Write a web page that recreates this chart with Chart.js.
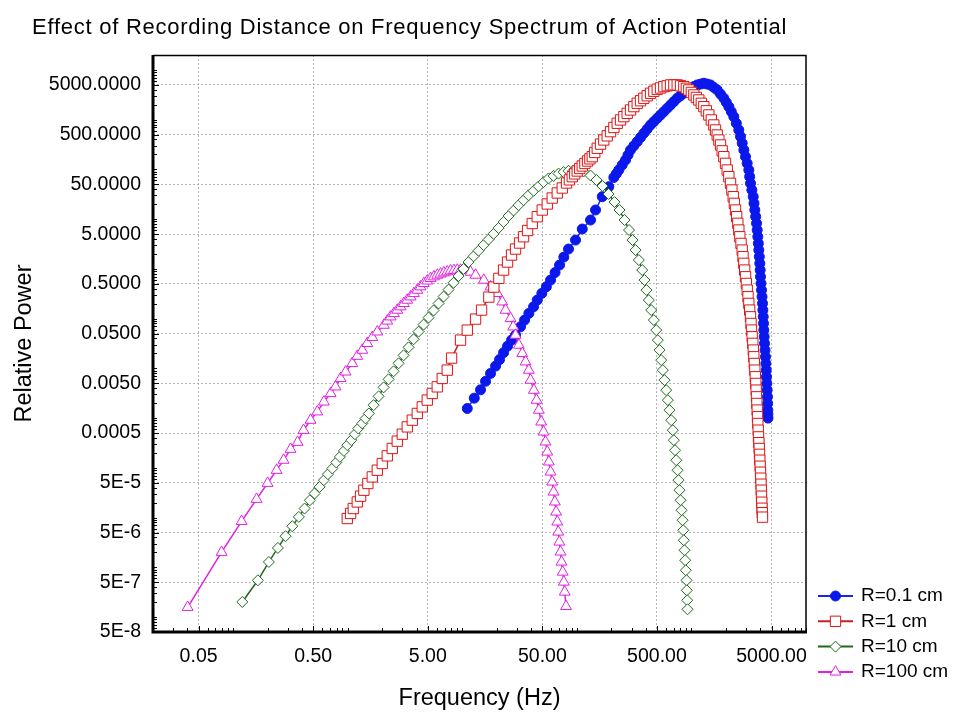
<!DOCTYPE html>
<html>
<head>
<meta charset="utf-8">
<title>Effect of Recording Distance on Frequency Spectrum of Action Potential</title>
<script src="https://cdn.jsdelivr.net/npm/chart.js@4.4.0/dist/chart.umd.min.js"></script>
<style>
  html, body { margin: 0; padding: 0; background: #fff; }
  #wrap { width: 960px; height: 720px; }
</style>
</head>
<body>
<div id="wrap"><canvas id="spectrumChart" width="960" height="720"></canvas></div>
<script>
// values (Hz, relative power)
var freq01 = [11.06, 12.73, 14.44, 15.97, 17.66, 19.53, 21.16, 22.94, 24.85, 26.93,
  29.18, 32.27, 34.98, 38.13, 41.91, 45.14, 49.5, 54.2, 58.97, 64.55,
  70.66, 77.0, 84.6, 97.4, 111.5, 131.7, 145.6, 166.6, 190.2, 210.3,
  221.1, 232.5, 248.7, 266.1, 279.7, 294.1, 314.6, 336.6, 359.7, 384.3,
  411.1, 439.7, 470.2, 502.9, 537.5, 574.4, 614.5, 657.3, 702.9, 751.7,
  803.3, 858.5, 918.3, 982.2, 1050.7, 1124, 1200.9, 1283, 1372.4, 1468,
  1570.4, 1680, 1795, 1918, 2016.5, 2120, 2229, 2344, 2465, 2592,
  2682, 2775, 2869, 2966, 3066, 3170, 3224, 3280, 3370, 3462,
  3518, 3575, 3637, 3700, 3749, 3798, 3836, 3875, 3914, 3953,
  3981, 4009, 4049, 4090, 4132, 4174, 4203, 4233, 4258, 4284,
  4314, 4345, 4389, 4433, 4464, 4496, 4523, 4550, 4582, 4615,
  4629, 4643, 4651, 4660];
var power01 = [1.56e-3, 2.52e-3, 3.7e-3, 5.49e-3, 7.91e-3, 0.0111, 0.015, 0.0207, 0.028, 0.037,
  0.0466, 0.0685, 0.0935, 0.1275, 0.173, 0.236, 0.322, 0.437, 0.596, 0.844,
  1.195, 1.73, 2.51, 3.80, 6.33, 9.61, 15.3, 28.3, 44.9, 68.8,
  81.9, 97.4, 122.8, 154.8, 195.1, 246, 298.4, 362, 439.7, 534,
  647, 784, 915.5, 1069, 1245, 1451, 1695, 1980, 2312, 2700,
  3032, 3404, 3822, 4292, 4632, 5000, 5201, 5410, 5201, 5000,
  4454, 3967, 3273, 2700, 2223, 1830, 1451, 1151, 846.1, 622,
  457.2, 336, 245.9, 180, 132.4, 97.4, 71.6, 52.6, 38.58, 28.3,
  20.81, 15.3, 11.24, 8.25, 6.05, 4.43, 3.25, 2.39, 1.756, 1.29,
  0.947, 0.695, 0.5105, 0.375, 0.2756, 0.2025, 0.1486, 0.109, 0.08006, 0.0588,
  0.04324, 0.0318, 0.02332, 0.0171, 0.012556, 9.22e-3, 6.776e-3, 4.98e-3, 3.653e-3, 2.68e-3,
  1.971e-3, 1.45e-3, 1.204e-3, 1.0e-3];

var freq1 = [0.992, 1.060, 1.119, 1.213, 1.296, 1.385, 1.501, 1.640, 1.813, 2.004,
  2.216, 2.450, 2.709, 2.996, 3.313, 3.663, 4.050, 4.477, 4.950, 5.473,
  6.051, 6.69, 7.40, 8.07, 9.66, 11.06, 13.07, 14.74, 17.07, 18.87,
  20.87, 22.94, 24.85, 26.93, 29.18, 31.62, 34.28, 37.15, 40.82, 45.14,
  49.9, 55.2, 61.0, 67.5, 74.6,
  81.3, 86.1, 91.2, 95.9, 100.8, 106.0, 111.5, 117.6, 124.0, 130.0,
  136.3, 143.3, 150.7, 161.0, 172.1, 184.1, 196.9, 210.6, 225.2, 240.7,
  257.2, 275.0, 294.1, 314.6, 336.6, 359.7, 384.3, 411.1, 439.7, 470.2,
  502.9, 537.5, 574.4, 614.5, 657.3, 702.9, 751.7, 803.3, 858.5, 902.8,
  949.3, 998.4, 1050, 1103.6, 1160, 1220, 1283, 1349, 1419, 1492,
  1569, 1623.5, 1680, 1736.5, 1795, 1855.5, 1918, 1984.4, 2053, 2122.3,
  2194, 2254.7, 2317, 2370.9, 2426, 2482.8, 2541, 2592.5, 2645, 2709.2,
  2775, 2820.1, 2866, 2915.6, 2966, 3017, 3069, 3119, 3170, 3224.5,
  3280, 3312.8, 3346, 3389.7, 3434, 3468.8, 3504, 3539.3, 3575, 3611.3,
  3648, 3673.9, 3700, 3725.9, 3752, 3774.9, 3798, 3824.9, 3852, 3878.9,
  3906, 3929.4, 3953, 3980.9, 4009, 4029.5, 4050, 4070, 4090, 4111,
  4132, 4153, 4174];
var power1 = [9.56e-6, 1.21e-5, 1.52e-5, 2.06e-5, 2.69e-5, 3.55e-5, 4.84e-5, 6.57e-5, 8.96e-5, 1.22e-4,
  1.74e-4, 2.45e-4, 3.44e-4, 4.75e-4, 6.66e-4, 9.09e-4, 1.24e-3, 1.68e-3, 2.3e-3, 3.13e-3,
  4.25e-3, 6.27e-3, 9.22e-3, 0.0161, 0.037, 0.0588, 0.0979, 0.1485, 0.271, 0.431,
  0.645, 0.948, 1.373, 1.899, 2.507, 3.31, 4.43, 5.91, 8.17, 11.2,
  15.27, 20.2, 26.6, 33.6, 42.3,
  53.4, 61.7, 71.4, 81.5, 93.0, 104.4, 117.3, 131.7, 147.8, 163.3,
  180.4, 219.2, 266.4, 322.8, 391.2, 474.1, 574.6, 698, 848, 988,
  1151, 1344, 1570, 1834, 2142, 2405, 2700, 3032, 3404, 3735,
  4098, 4352, 4622, 4807, 5000, 5000, 5000, 4807, 4622, 4282,
  3967, 3533, 3147, 2803, 2496, 2137, 1830, 1510, 1246, 988.4,
  784, 621.7, 493, 390.9, 310, 236.5, 180.4, 132.6, 97.4, 71.6,
  52.6, 38.6, 28.3, 20.79, 15.27, 11.22, 8.25, 6.05, 4.43, 3.254,
  2.39, 1.758, 1.293, 0.948, 0.695, 0.5105, 0.375, 0.2756, 0.2025, 0.1485,
  0.1089, 0.08002, 0.0588, 0.04324, 0.0318, 0.02332, 0.0171, 0.012556, 9.22e-3, 6.776e-3,
  4.98e-3, 3.653e-3, 2.68e-3, 1.971e-3, 1.45e-3, 1.0635e-3, 7.8e-4, 5.717e-4, 4.19e-4, 3.204e-4,
  2.45e-4, 1.8685e-4, 1.425e-4, 1.079e-4, 8.17e-5, 6.19e-5, 4.69e-5, 3.552e-5, 2.69e-5, 2.035e-5,
  1.54e-5, 1.2533e-5, 1.02e-5];

var freq10 = [0.1203, 0.1646, 0.2053, 0.246, 0.287, 0.3285, 0.375, 0.4207, 0.468, 0.514,
  0.5686, 0.62, 0.672, 0.734, 0.7953, 0.855, 0.927, 0.992, 1.075, 1.156,
  1.237, 1.341, 1.433, 1.531, 1.683, 1.861, 2.058, 2.275, 2.515, 2.781,
  3.074, 3.400, 3.759, 4.156, 4.596, 5.082, 5.618, 6.211, 6.869, 7.594,
  8.397, 9.286, 10.27, 11.35, 12.55, 13.88, 15.35, 16.97, 18.76, 20.75,
  22.94, 25.36, 28.04, 31.00, 34.28, 37.90, 41.91, 46.33, 51.23, 56.64,
  62.62, 69.24, 76.56, 84.64, 93.6, 103.5, 114.4, 131.7, 148.6, 167.6,
  189.1, 213.3, 235.8, 260.8, 285.5, 306.3, 325.3, 347.6, 372.1, 389.7,
  405.6, 424.8, 445.9, 469.8, 493.0, 509.2, 526.8, 545.1, 562.9, 582.5,
  602.8, 622.4, 644.0, 666.5, 688.2, 702.3, 719.3, 736.9, 756.5, 771.8,
  787.5, 803.4, 819.8, 836.4, 848.3, 858.5, 870.7, 883.0, 893.9, 906.5,
  912.0, 919.3, 924.8];
var power10 = [2.01e-7, 5.48e-7, 1.28e-6, 2.45e-6, 4.22e-6, 6.7e-6, 1.03e-5, 1.52e-5, 2.23e-5, 3.05e-5,
  4.14e-5, 5.64e-5, 7.45e-5, 9.7e-5, 1.28e-4, 1.66e-4, 2.19e-4, 2.86e-4, 3.6e-4, 4.75e-4,
  6.19e-4, 7.8e-4, 9.84e-4, 1.24e-3, 1.82e-3, 2.74e-3, 4.15e-3, 6.02e-3, 8.72e-3, 0.01263,
  0.0183, 0.0265, 0.0384, 0.0548, 0.0759, 0.105, 0.1458, 0.2016, 0.2777, 0.384,
  0.526, 0.718, 0.997, 1.373, 1.788, 2.328, 3.018, 3.893, 5.07, 6.63,
  8.76, 11.57, 14.92, 19.08, 24.05, 30.18, 37.18, 45.6, 55.6, 66.0,
  74.1, 82.5, 88.4, 93.9, 95.2, 93.9, 90.9, 75.5, 61.3, 46.4,
  32.1, 22.1, 15.27, 9.61, 6.05, 3.80, 2.39, 1.506, 0.948, 0.596,
  0.375, 0.236, 0.1485, 0.0935, 0.0588, 0.037, 0.0233, 0.01465, 9.22e-3, 5.8e-3,
  3.65e-3, 2.3e-3, 1.445e-3, 9.09e-4, 5.72e-4, 3.6e-4, 2.26e-4, 1.425e-4, 8.96e-5, 5.64e-5,
  3.55e-5, 2.23e-5, 1.405e-5, 8.84e-6, 5.56e-6, 3.5e-6, 2.2e-6, 1.386e-6, 8.72e-7, 5.48e-7,
  3.45e-7, 2.17e-7, 1.43e-7];

var freq100 = [0.0401, 0.0794, 0.1186, 0.1603, 0.200, 0.2398, 0.276, 0.3175, 0.3656, 0.412,
  0.4745, 0.543, 0.62, 0.71, 0.784, 0.867, 0.959, 1.097, 1.213, 1.341,
  1.483, 1.64, 1.813,
  2.07, 2.214, 2.368, 2.533, 2.71, 2.895, 3.093, 3.309, 3.54, 3.786,
  4.05, 4.326, 4.62, 4.944, 5.29, 5.657, 6.05, 6.466, 6.91, 7.393,
  7.91, 8.461, 9.05, 9.669, 10.33,
  11.82, 13.06, 15.43, 17.66, 20.2, 22.34, 23.87, 26.4, 27.86, 29.18,
  31.2, 33.4, 35.7, 38.1, 39.45, 42.2, 44.5, 46.6, 48.9, 51.2,
  53.3, 55.2, 57.0, 58.97, 61.0, 62.6, 64.3, 65.9, 67.5, 68.8,
  70.4, 72.1, 73.5, 75.3, 77.0, 78.4, 80.5];
var power100 = [1.57e-7, 2.01e-6, 8.4e-6, 2.34e-5, 4.9e-5, 8.97e-5, 1.43e-4, 2.37e-4, 3.28e-4, 5.7e-4,
  9.1e-4, 1.34e-3, 2.12e-3, 3.13e-3, 4.26e-3, 6.28e-3, 8.5e-3, 0.01256, 0.0176, 0.0233,
  0.0318, 0.042, 0.0543,
  0.0741, 0.0899, 0.109, 0.1273, 0.1486, 0.1737, 0.203, 0.2363, 0.275, 0.3211,
  0.375, 0.4382, 0.512, 0.5747, 0.645, 0.6965, 0.752, 0.7929, 0.836, 0.876,
  0.918, 0.9334, 0.949, 0.949, 0.949,
  0.863, 0.752, 0.596, 0.437, 0.322, 0.218, 0.1486, 0.101, 0.0686, 0.0467,
  0.0294, 0.02, 0.01355, 0.00923, 0.0058, 0.00365, 0.0023, 0.00145, 8.4e-4, 5.28e-4,
  3.33e-4, 2.09e-4, 1.32e-4, 8.28e-5, 5.21e-5, 3.28e-5, 2.07e-5, 1.3e-5, 8.2e-6, 5.14e-6,
  3.24e-6, 2.04e-6, 1.28e-6, 8.05e-7, 5.07e-7, 3.19e-7, 1.64e-7];

var seriesLabels = ['R=0.1 cm', 'R=1 cm', 'R=10 cm', 'R=100 cm'];
var xTicks = [0.05, 0.5, 5, 50, 500, 5000];
var xTickLabels = ['0.05', '0.50', '5.00', '50.00', '500.00', '5000.00'];
var yTicks = [5e-8, 5e-7, 5e-6, 5e-5, 5e-4, 5e-3, 0.05, 0.5, 5, 50, 500, 5000];
var yTickLabels = ['5E-8', '5E-7', '5E-6', '5E-5', '0.0005', '0.0050', '0.0500', '0.5000', '5.0000', '50.0000', '500.0000', '5000.0000'];
var chartTitle = 'Effect of Recording Distance on Frequency Spectrum of Action Potential';

var FONT = '"Liberation Sans", Arial, sans-serif';
Chart.defaults.font.family = FONT;
Chart.defaults.color = '#000';

function pairs(xs, ys) {
  return xs.map(function (x, i) { return {x: x, y: ys[i]}; });
}

function series(label, xs, ys, style) {
  return Object.assign({
    label: label,
    data: pairs(xs, ys),
    showLine: true,
    tension: 0,
    fill: false,
    borderWidth: 1.5,
    pointBorderWidth: 1
  }, style);
}

var datasets = [
  series(seriesLabels[0], freq01, power01, {
    borderColor: '#1a28d8', pointStyle: 'circle', pointRadius: 5,
    pointBackgroundColor: '#0a18ec', pointBorderColor: '#0a18ec', order: 3
  }),
  series(seriesLabels[1], freq1, power1, {
    borderColor: '#c42424', pointStyle: 'rect', pointRadius: 7.3,
    pointBackgroundColor: '#ffffff', pointBorderColor: '#dc1414', order: 0
  }),
  series(seriesLabels[2], freq10, power10, {
    borderColor: '#1d6a1d', pointStyle: 'rectRot', pointRadius: 5.5,
    pointBackgroundColor: '#ffffff', pointBorderColor: '#1d6a1d', order: 1
  }),
  series(seriesLabels[3], freq100, power100, {
    borderColor: '#e022e0', pointStyle: 'triangle', pointRadius: 6.3,
    pointBackgroundColor: '#ffffff', pointBorderColor: '#e022e0', order: 2
  })
];

// small marker drawer for the side legend
function marker(ctx, style, r, x, y) {
  ctx.beginPath();
  if (style === 'circle') {
    ctx.arc(x, y, r, 0, Math.PI * 2);
  } else if (style === 'rect') {
    var s = r * Math.SQRT1_2;
    ctx.rect(x - s, y - s, 2 * s, 2 * s);
  } else if (style === 'rectRot') {
    ctx.moveTo(x - r, y); ctx.lineTo(x, y - r); ctx.lineTo(x + r, y); ctx.lineTo(x, y + r);
    ctx.closePath();
  } else {
    ctx.moveTo(x, y - r);
    ctx.lineTo(x + r * 0.866, y + r * 0.5);
    ctx.lineTo(x - r * 0.866, y + r * 0.5);
    ctx.closePath();
  }
  ctx.fill();
  ctx.stroke();
}

var titlePlugin = {
  id: 'plotTitle',
  afterDraw: function (chart) {
    var ctx = chart.ctx;
    ctx.save();
    ctx.font = '22px ' + FONT;
    ctx.letterSpacing = '0.75px';
    ctx.fillStyle = '#000';
    ctx.textBaseline = 'middle';
    ctx.fillText(chartTitle, 32, 28);
    ctx.restore();
  }
};

var framePlugin = {
  id: 'frame',
  afterDatasetsDraw: function (chart) {
    var ctx = chart.ctx, a = chart.chartArea;
    var xs = chart.scales.x, ys = chart.scales.y;
    ctx.save();
    ctx.strokeStyle = '#000';
    ctx.lineWidth = 1;
    ctx.beginPath();
    for (var k = -9; k <= 5; k++) {
      for (var n = 1; n <= 9; n++) {
        var v = n * Math.pow(10, k);
        var len = n === 5 ? 6 : 4;
        if (v >= xs.min && v <= xs.max) {
          var px = Math.round(xs.getPixelForValue(v)) + 0.5;
          ctx.moveTo(px, a.bottom);
          ctx.lineTo(px, a.bottom - len);
        }
        if (v >= ys.min && v <= ys.max) {
          var py = Math.round(ys.getPixelForValue(v)) + 0.5;
          ctx.moveTo(a.left, py);
          ctx.lineTo(a.left + len, py);
        }
      }
    }
    ctx.stroke();
    // thin top and right edges
    ctx.lineWidth = 1.5;
    ctx.beginPath();
    ctx.moveTo(a.left, a.top + 0.5);
    ctx.lineTo(a.right, a.top + 0.5);
    ctx.lineTo(a.right, a.bottom);
    ctx.stroke();
    // heavy left and bottom axes
    ctx.lineWidth = 3;
    ctx.beginPath();
    ctx.moveTo(a.left, a.top);
    ctx.lineTo(a.left, a.bottom);
    ctx.lineTo(a.right + 1, a.bottom);
    ctx.stroke();
    ctx.restore();
  }
};

var legendPlugin = {
  id: 'sideLegend',
  afterDraw: function (chart) {
    var ctx = chart.ctx;
    ctx.save();
    ctx.font = '19px ' + FONT;
    ctx.textBaseline = 'middle';
    chart.data.datasets.forEach(function (ds, i) {
      var y = 596 + i * 25.3;
      ctx.strokeStyle = ds.borderColor;
      ctx.lineWidth = 2;
      ctx.beginPath();
      ctx.moveTo(818, y);
      ctx.lineTo(853, y);
      ctx.stroke();
      ctx.fillStyle = ds.pointBackgroundColor;
      ctx.strokeStyle = ds.pointBorderColor;
      ctx.lineWidth = 1;
      marker(ctx, ds.pointStyle, ds.pointRadius, 835.5, y);
      ctx.fillStyle = '#000';
      ctx.fillText(seriesLabels[i], 861, y);
    });
    ctx.restore();
  }
};

var ctx = document.getElementById('spectrumChart').getContext('2d');
var spectrumChart = new Chart(ctx, {
  type: 'scatter',
  data: { datasets: datasets },
  options: {
    responsive: false,
    animation: false,
    devicePixelRatio: 1,
    layout: { padding: { top: 55, right: 154, left: 0, bottom: 0 } },
    plugins: {
      legend: { display: false },
      tooltip: { enabled: false },
      title: { display: false }
    },
    scales: {
      x: {
        type: 'logarithmic',
        position: 'bottom',
        min: 0.02,
        max: 10000,
        afterBuildTicks: function (axis) {
          axis.ticks = xTicks.map(function (v) { return {value: v}; });
        },
        afterFit: function (axis) { axis.height = 88; },
        ticks: {
          autoSkip: false,
          maxRotation: 0,
          padding: 13,
          font: { size: 19.5 },
          callback: function (value, index) { return xTickLabels[index]; }
        },
        grid: { color: '#b4b4b4', lineWidth: 1, drawTicks: false },
        border: { display: false, dash: [2, 2] },
        title: {
          display: true,
          text: 'Frequency (Hz)',
          font: { size: 23.5 },
          padding: { top: 0, bottom: 7 }
        }
      },
      y: {
        type: 'logarithmic',
        position: 'left',
        min: 5e-8,
        max: 20000,
        afterBuildTicks: function (axis) {
          axis.ticks = yTicks.map(function (v) { return {value: v}; });
        },
        afterFit: function (axis) { axis.width = 153; },
        ticks: {
          autoSkip: false,
          padding: 12,
          font: { size: 19.5 },
          callback: function (value, index) { return yTickLabels[index]; }
        },
        grid: { color: '#b4b4b4', lineWidth: 1, drawTicks: false },
        border: { display: false, dash: [2, 2] },
        title: {
          display: true,
          text: 'Relative Power',
          font: { size: 23.5 },
          padding: { top: 10, bottom: 0 }
        }
      }
    }
  },
  plugins: [titlePlugin, framePlugin, legendPlugin]
});
</script>
</body>
</html>
